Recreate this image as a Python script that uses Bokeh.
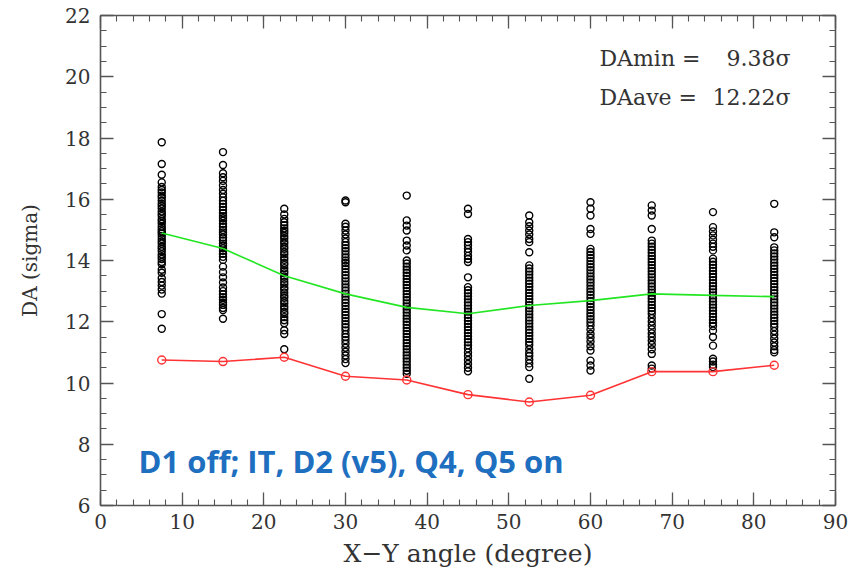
from bokeh.plotting import figure
from bokeh.models import Range1d, LinearAxis, SingleIntervalTicker, Label, CustomJSTickFormatter
from bokeh.embed import file_html
from bokeh.resources import INLINE

# ---------------- data ----------------
angles = [7.5, 15, 22.5, 30, 37.5, 45, 52.5, 60, 67.5, 75, 82.5]

da_ave = [14.90, 14.39, 13.50, 12.91, 12.47, 12.26, 12.53, 12.69, 12.91, 12.86, 12.82]
da_min = [10.75, 10.70, 10.84, 10.22, 10.10, 9.62, 9.38, 9.60, 10.37, 10.37, 10.58]

seeds_07 = [17.86, 17.15, 16.8, 16.55, 16.4, 16.3, 16.22, 16.12, 16.05, 15.95, 15.85, 15.78,
            15.7, 15.6, 15.52, 15.45, 15.35, 15.28, 15.2, 15.1, 15.02, 14.95, 14.88, 14.8,
            14.7, 14.62, 14.55, 14.45, 14.38, 14.3, 14.2, 14.12, 14.05, 13.95, 13.88, 13.7,
            13.6, 13.42, 13.3, 13.18, 13.05, 12.92, 12.25, 11.77]
seeds_15 = [17.54, 17.12, 16.85, 16.72, 16.6, 16.45, 16.3, 16.18, 16.06, 15.95, 15.85, 15.75,
            15.65, 15.55, 15.45, 15.38, 15.3, 15.2, 15.1, 15.0, 14.92, 14.85, 14.75, 14.65,
            14.55, 14.48, 14.4, 14.32, 14.22, 14.12, 14.02, 13.8, 13.62, 13.45, 13.28, 13.12,
            13.0, 12.9, 12.8, 12.72, 12.62, 12.55, 12.45, 12.38, 12.1]
seeds_22 = [15.69, 15.5, 15.36, 15.25, 15.15, 15.05, 14.97, 14.9, 14.8, 14.72, 14.62, 14.55,
            14.45, 14.38, 14.28, 14.2, 14.1, 14.02, 13.92, 13.85, 13.75, 13.65, 13.58, 13.48,
            13.4, 13.3, 13.22, 13.12, 13.05, 12.95, 12.85, 12.78, 12.68, 12.6, 12.5, 12.42,
            12.32, 12.25, 12.15, 12.05, 11.95, 11.72, 11.6, 11.1]
seeds_30 = [15.96, 15.9, 15.2, 15.1, 14.98, 14.85, 14.72, 14.6, 14.5, 14.4, 14.3, 14.2, 14.1,
            14.0, 13.92, 13.82, 13.72, 13.62, 13.52, 13.42, 13.32, 13.22, 13.12, 13.02, 12.92,
            12.82, 12.72, 12.62, 12.52, 12.42, 12.32, 12.22, 12.12, 12.02, 11.92, 11.82, 11.72,
            11.6, 11.5, 11.4, 11.28, 11.15, 11.02, 10.9, 10.78, 10.65]
seeds_37 = [16.12, 15.31, 15.14, 14.98, 14.65, 14.49, 14.33, 14.0, 13.9, 13.8, 13.7, 13.6,
            13.5, 13.4, 13.3, 13.2, 13.1, 13.0, 12.9, 12.8, 12.7, 12.6, 12.5, 12.4, 12.3, 12.2,
            12.1, 12.0, 11.9, 11.8, 11.7, 11.6, 11.5, 11.4, 11.3, 11.2, 11.1, 11.0, 10.9, 10.8,
            10.7, 10.6, 10.5, 10.4, 10.3]
seeds_45 = [15.69, 15.52, 14.7, 14.6, 14.5, 14.38, 14.28, 14.15, 14.05, 13.95, 13.45, 13.13,
            13.03, 12.93, 12.83, 12.73, 12.63, 12.53, 12.43, 12.33, 12.23, 12.13, 12.03, 11.93,
            11.83, 11.73, 11.63, 11.53, 11.43, 11.33, 11.23, 11.13, 11.0, 10.88, 10.75, 10.62,
            10.5, 10.38]
seeds_52 = [15.47, 15.25, 15.12, 14.98, 14.85, 14.7, 14.6, 14.27, 13.84, 13.74, 13.64, 13.54,
            13.44, 13.34, 13.24, 13.14, 13.04, 12.94, 12.84, 12.74, 12.64, 12.54, 12.44, 12.34,
            12.24, 12.14, 12.04, 11.94, 11.84, 11.74, 11.64, 11.54, 11.44, 11.34, 11.24, 11.1,
            10.98, 10.88, 10.76, 10.64, 10.52, 10.14]
seeds_60 = [15.9, 15.69, 15.47, 15.03, 14.87, 14.38, 14.28, 14.18, 14.08, 13.98, 13.88, 13.78,
            13.68, 13.58, 13.48, 13.38, 13.28, 13.18, 13.08, 12.98, 12.88, 12.78, 12.68, 12.58,
            12.48, 12.38, 12.28, 12.18, 12.08, 11.98, 11.88, 11.75, 11.6, 11.48, 11.35, 11.2,
            11.06, 10.73, 10.57, 10.41]
seeds_67 = [15.8, 15.63, 15.47, 15.03, 14.65, 14.55, 14.45, 14.35, 14.25, 14.15, 14.05, 13.95,
            13.85, 13.75, 13.65, 13.55, 13.45, 13.35, 13.25, 13.15, 13.05, 12.95, 12.85, 12.75,
            12.65, 12.55, 12.45, 12.35, 12.25, 12.12, 12.0, 11.88, 11.75, 11.62, 11.5, 11.38,
            11.25, 11.1, 10.95, 10.57, 10.47]
seeds_75 = [15.58, 15.09, 14.95, 14.82, 14.68, 14.55, 14.45, 14.33, 14.06, 13.96, 13.86, 13.76,
            13.66, 13.56, 13.46, 13.36, 13.26, 13.16, 13.06, 12.96, 12.86, 12.76, 12.66, 12.56,
            12.46, 12.36, 12.26, 12.16, 12.06, 11.96, 11.86, 11.71, 11.5, 11.22, 10.79, 10.7,
            10.6, 10.52]
seeds_82 = [15.85, 14.92, 14.76, 14.43, 14.33, 14.23, 14.13, 14.03, 13.93, 13.83, 13.73, 13.63,
            13.53, 13.43, 13.33, 13.23, 13.13, 13.03, 12.93, 12.83, 12.73, 12.63, 12.53, 12.43,
            12.33, 12.23, 12.13, 12.03, 11.93, 11.83, 11.7, 11.58, 11.45, 11.32, 11.2, 11.08,
            11.0]

seed_columns = [seeds_07, seeds_15, seeds_22, seeds_30, seeds_37, seeds_45,
                seeds_52, seeds_60, seeds_67, seeds_75, seeds_82]

x_ticks_interval = 10
y_ticks_interval = 2

# ---------------- figure ----------------
SERIF = "DejaVu Serif"
AXIS_COLOR = "#555555"
TEXT_COLOR = "#333333"

p = figure(frame_width=735, frame_height=490,
           x_range=Range1d(0, 90), y_range=Range1d(6, 22),
           output_backend="svg", toolbar_location=None,
           min_border_left=100, min_border_right=17,
           min_border_top=15, min_border_bottom=78)
p.background_fill_color = "white"
p.border_fill_color = "white"
p.outline_line_color = None
p.grid.visible = False

# scatter of all seeds
sx, sy = [], []
for a, col in zip(angles, seed_columns):
    sx.extend([a] * len(col))
    sy.extend(col)
p.scatter(sx, sy, marker="circle", size=7, fill_color=None,
          line_color="black", line_width=1.4)

# average line (green) and minimum line (red)
p.line(angles, da_ave, line_color="#22e622", line_width=1.6)
p.line(angles, da_min, line_color="#ff3333", line_width=1.6)
p.scatter(angles, da_min, marker="circle", size=8, fill_color=None,
          line_color="#ff3333", line_width=1.4)

# axes styling
def style_axis(ax, interval, minors, labels=True):
    ax.ticker = SingleIntervalTicker(interval=interval, num_minor_ticks=minors)
    ax.axis_line_color = AXIS_COLOR
    ax.axis_line_width = 1.6
    ax.major_tick_line_color = AXIS_COLOR
    ax.minor_tick_line_color = AXIS_COLOR
    ax.major_tick_line_width = 1.3
    ax.minor_tick_line_width = 1.1
    ax.major_tick_in = 13
    ax.major_tick_out = 0
    ax.minor_tick_in = 6
    ax.minor_tick_out = 0
    if labels:
        ax.major_label_text_font = SERIF
        ax.major_label_text_font_size = "20px"
        ax.major_label_text_color = TEXT_COLOR
        ax.axis_label_text_font = SERIF
        ax.axis_label_text_font_style = "normal"
        ax.axis_label_text_color = TEXT_COLOR
    else:
        ax.formatter = CustomJSTickFormatter(code="return ''")
        ax.major_label_standoff = 0

style_axis(p.xaxis[0], x_ticks_interval, 5)
style_axis(p.yaxis[0], y_ticks_interval, 4)
p.xaxis[0].axis_label = "X\u2212Y angle (degree)"
p.yaxis[0].axis_label = "DA (sigma)"
p.xaxis[0].axis_label_text_font_size = "25px"
p.yaxis[0].axis_label_text_font_size = "20px"
p.xaxis[0].major_label_standoff = 8
p.yaxis[0].major_label_standoff = 10
p.xaxis[0].axis_label_standoff = 7
p.yaxis[0].axis_label_standoff = 20

top_ax = LinearAxis()
right_ax = LinearAxis()
style_axis(top_ax, x_ticks_interval, 5, labels=False)
style_axis(right_ax, y_ticks_interval, 4, labels=False)
p.add_layout(top_ax, "above")
p.add_layout(right_ax, "right")

# annotations
for txt, xx, yy, align in [("DAmin =", 61.1, 20.6, "left"), ("9.38\u03c3", 84.5, 20.6, "right"),
                           ("DAave =", 61.1, 19.32, "left"), ("12.22\u03c3", 84.5, 19.32, "right")]:
    p.add_layout(Label(x=xx, y=yy, text=txt, text_font=SERIF, text_font_size="22px",
                       text_color=TEXT_COLOR, text_align=align, text_baseline="middle"))

p.add_layout(Label(x=4.65, y=7.44, text="D1 off; IT, D2 (v5), Q4, Q5 on",
                   text_font="Open Sans", text_font_style="bold", text_font_size="31px",
                   text_color="#1f6fc0", text_baseline="middle"))

open("out.html", "w").write(file_html(p, INLINE))
